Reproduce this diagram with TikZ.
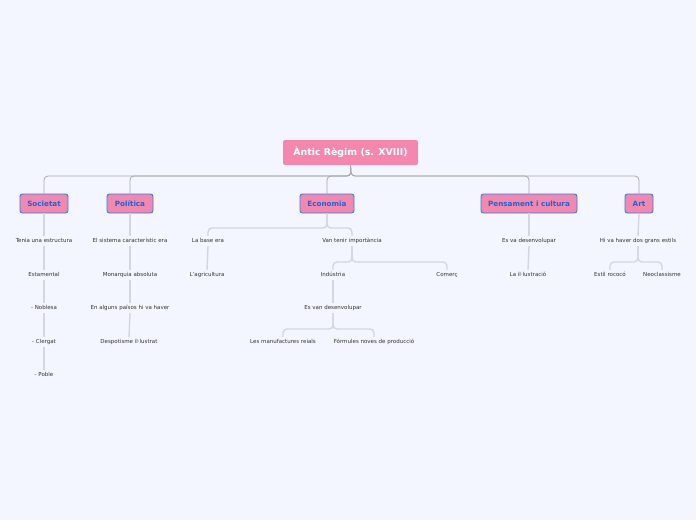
\documentclass[tikz,border=0pt]{standalone}
\usepackage{fontspec}
\setmainfont{DejaVu Sans}
\definecolor{bgc}{HTML}{F3F6FE}
\definecolor{rootpink}{HTML}{F487AE}
\definecolor{mainpink}{HTML}{F088B0}
\definecolor{mainblue}{HTML}{2F7FE6}
\definecolor{maintext}{HTML}{1F63D6}
\definecolor{topline}{HTML}{A3A7B3}
\definecolor{subline}{HTML}{D3D6DE}
\definecolor{subtext}{HTML}{333333}
\begin{document}
\begin{tikzpicture}[x=1pt,y=-1pt,
  rootbox/.style={fill=rootpink, rounded corners=2pt, text=white, font=\fontsize{9.4}{11}\selectfont\bfseries, minimum width=135pt, minimum height=25pt, inner sep=0pt, text height=7.6pt, text depth=1.6pt},
  mainbox/.style={fill=mainpink, draw=mainblue, line width=0.9pt, rounded corners=2.5pt, text=maintext, font=\fontsize{7.2}{8}\selectfont\bfseries, minimum height=19pt, inner sep=0pt, text height=6.2pt, text depth=1.2pt},
  subnode/.style={text=subtext, font=\fontsize{5.5}{6.5}\selectfont, inner sep=0pt, text height=5pt, text depth=1.2pt, outer sep=2pt},
  topconn/.style={draw=topline, line width=0.8pt, rounded corners=4pt},
  subconn/.style={draw=subline, line width=1.4pt, rounded corners=4pt}
]
\fill[bgc] (0,0) rectangle (696,520);
\useasboundingbox (0,0) rectangle (696,520);

\node[rootbox] (root) at (350.5,152.5) {Àntic Règim (s. XVIII)};
\node[mainbox, minimum width=48pt] (soc) at (44,203.5) {Societat};
\node[mainbox, minimum width=46pt] (pol) at (130,203.5) {Política};
\node[mainbox, minimum width=54pt] (eco) at (327,203.5) {Economia};
\node[mainbox, minimum width=96pt] (pen) at (529,203.5) {Pensament i cultura};
\node[mainbox, minimum width=28pt] (art) at (639,203.5) {Art};

\coordinate (j) at (351,176);
\draw[topconn] (root.south) -- (j) -| (soc.north);
\draw[topconn] (root.south) -- (j) -| (pol.north);
\draw[topconn] (root.south) -- (j) -| (eco.north);
\draw[topconn] (root.south) -- (j) -| (pen.north);
\draw[topconn] (root.south) -- (j) -| (art.north);

% Societat
\node[subnode] (s1) at (44,241) {Tenia una estructura};
\node[subnode] (s2) at (44,275) {Estamental};
\node[subnode] (s3) at (44,308) {- Noblesa};
\node[subnode] (s4) at (44,342) {- Clergat};
\node[subnode] (s5) at (44,375) {- Poble};
\draw[subconn] (soc.south) -- (s1.north);
\draw[subconn] (s1.south) -- (s2.north);
\draw[subconn] (s2.south) -- (s3.north);
\draw[subconn] (s3.south) -- (s4.north);
\draw[subconn] (s4.south) -- (s5.north);

% Politica
\node[subnode] (p1) at (130,241) {El sistema característic era};
\node[subnode] (p2) at (130,275) {Monarquia absoluta};
\node[subnode] (p3) at (130,308) {En alguns països hi va haver};
\node[subnode] (p4) at (129,342) {Despotisme il·lustrat};
\draw[subconn] (pol.south) -- (p1.north);
\draw[subconn] (p1.south) -- (p2.north);
\draw[subconn] (p2.south) -- (p3.north);
\draw[subconn] (p3.south) -- (p4.north);

% Economia
\node[subnode] (e1) at (208,241) {La base era};
\node[subnode] (e2) at (207,275) {L'agricultura};
\node[subnode] (e3) at (352,241) {Van tenir importància};
\node[subnode] (e4) at (333,275) {Indústria};
\node[subnode] (e5) at (447,275) {Comerç};
\node[subnode] (e6) at (333,308) {Es van desenvolupar};
\node[subnode] (e7) at (283,342) {Les manufactures reials};
\node[subnode] (e8) at (374,342) {Fórmules noves de producció};
\coordinate (ej) at (327,228);
\draw[subconn] (eco.south) -- (ej) -| (e1.north);
\draw[subconn] (eco.south) -- (ej) -| (e3.north);
\draw[subconn] (e1.south) -- (e2.north);
\coordinate (ej2) at (352,262);
\draw[subconn] (e3.south) -- (ej2) -| (e4.north);
\draw[subconn] (e3.south) -- (ej2) -| (e5.north);
\draw[subconn] (e4.south) -- (e6.north);
\coordinate (ej3) at (333,329);
\draw[subconn] (e6.south) -- (ej3) -| (e7.north);
\draw[subconn] (e6.south) -- (ej3) -| (e8.north);

% Pensament
\node[subnode] (c1) at (529,241) {Es va desenvolupar};
\node[subnode] (c2) at (528,275) {La il·lustració};
\draw[subconn] (pen.south) -- (c1.north);
\draw[subconn] (c1.south) -- (c2.north);

% Art
\node[subnode] (a1) at (638,241) {Hi va haver dos grans estils};
\node[subnode] (a2) at (610,275) {Estil rococó};
\node[subnode] (a3) at (662,275) {Neoclassisme};
\draw[subconn] (art.south) -- (a1.north);
\coordinate (aj) at (638,262);
\draw[subconn] (a1.south) -- (aj) -| (a2.north);
\draw[subconn] (a1.south) -- (aj) -| (a3.north);
\end{tikzpicture}
\end{document}
